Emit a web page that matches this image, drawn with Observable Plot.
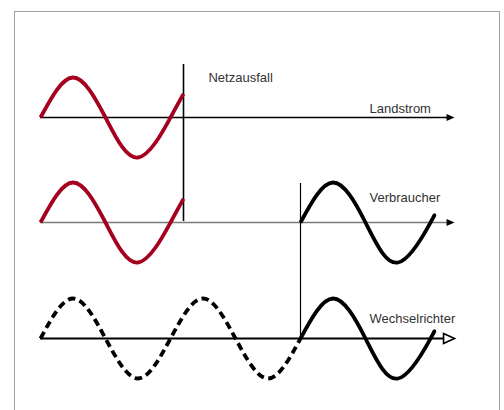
<!DOCTYPE html>
<html><head><meta charset="utf-8">
<script src="https://cdn.jsdelivr.net/npm/d3@7"></script>
<script src="https://cdn.jsdelivr.net/npm/@observablehq/plot@0.6"></script>
<style>body{margin:0;background:#fff} #chart svg{display:block}</style>
</head><body><div id="chart"></div>
<script>
// Rows (axes) and their labels
const rows = ["Landstrom", "Verbraucher", "Wechselrichter"];
const rowBaseline = [0, -2.625, -5.525];
const labelX = [2.531, 2.531, 2.531];
const labelDy = [0.225, 0.625, 0.5];
const axisStart = [0, 0, 0];
const axisLineEnd = [3.14, 3.14, 3.1];
const axisTip = [3.185, 3.185, 3.185];
const axisColor = ["#000", "#7a7a7a", "#000"];
const axisWidth = [1.5, 1.5, 2];
const headType = ["filled", "filled", "open"];

// Wave sample points (x in periods, y in amplitude units)
const gridX = [0, 0.25, 0.5, 0.75, 1, 1.1];
const gridY = [0, 1, 0, -1, 0, 0.59];
const idleX = [0, 0.25, 0.5, 0.75, 1, 1.25, 1.5, 1.75, 2];
const idleY = [0, 1, 0, -1, 0, 1, 0, -1, 0];
const invX = [2, 2.25, 2.5, 2.75, 3, 3.012];
const invY = [0, 1, 0, -1, 0, 0.07];

// Event marker (grid failure / switchover)
const eventLabel = "Netzausfall";
const eventLabelX = 1.292;
const eventLabelY = 1.0;
const cutX = [1.1, 2.0];
const cutTop = [1.325, -1.65];
const cutBottom = [-2.6, -5.525];
const cutWidth = [1.6, 1.2];

const red = "#a5001f";

function wave(xs, ys, row) {
  return xs.map((x, i) => ({x, y: rowBaseline[row] + ys[i]}));
}
const waves = [
  {data: wave(gridX, gridY, 0), stroke: red, dash: null},
  {data: wave(gridX, gridY, 1), stroke: red, dash: null},
  {data: wave(invX, invY, 1), stroke: "#000", dash: null},
  {data: wave(idleX, idleY, 2), stroke: "#000", dash: "7.5,4.5"},
  {data: wave(invX, invY, 2), stroke: "#000", dash: null}
];

const axes = rows.map((name, i) => ({
  name, y: rowBaseline[i], x1: axisStart[i], x2: axisLineEnd[i], tip: axisTip[i],
  color: axisColor[i], width: axisWidth[i], head: headType[i],
  lx: labelX[i], ly: rowBaseline[i] + labelDy[i]
}));
const cuts = cutX.map((x, i) => ({x, y1: cutTop[i], y2: cutBottom[i], w: cutWidth[i]}));

const filledHead = {draw(ctx) { ctx.moveTo(0, 0); ctx.lineTo(-8, -3.6); ctx.lineTo(-8, 3.6); ctx.closePath(); }};
const openHead = {draw(ctx) { ctx.moveTo(0, 0); ctx.lineTo(-11, -5); ctx.lineTo(-11, 5); ctx.closePath(); }};

const font = "'Liberation Sans', Arial, Helvetica, sans-serif";

const marks = [
  Plot.frame({anchor: "left", stroke: "#9aa1a8", strokeWidth: 1}),
  Plot.frame({anchor: "top", stroke: "#9aa1a8", strokeWidth: 1}),
  Plot.frame({anchor: "right", stroke: "#9aa1a8", strokeWidth: 1}),
  ...axes.map(a => Plot.ruleY([a], {y: "y", x1: "x1", x2: "x2", stroke: a.color, strokeWidth: a.width})),
  ...cuts.map(c => Plot.ruleX([c], {x: "x", y1: "y1", y2: "y2", stroke: "#000", strokeWidth: c.w})),
  ...waves.map(w => Plot.line(w.data, {x: "x", y: "y", curve: "natural", stroke: w.stroke, strokeWidth: 3.8,
      strokeDasharray: w.dash ?? undefined, strokeLinecap: "butt"})),
  Plot.dot(axes.filter(a => a.head === "filled"), {x: "tip", y: "y", symbol: filledHead, fill: "#000", stroke: "none"}),
  Plot.dot(axes.filter(a => a.head === "open"), {x: "tip", y: "y", symbol: openHead, fill: "#fff", stroke: "#000", strokeWidth: 1.6}),
  Plot.text(axes, {x: "lx", y: "ly", text: "name", textAnchor: "start", fill: "#333", fontSize: 13}),
  Plot.text([eventLabel], {x: eventLabelX, y: eventLabelY, text: d => d, textAnchor: "start", fill: "#333", fontSize: 13})
];

const chart = Plot.plot({
  width: 504, height: 410,
  marginLeft: 14, marginTop: 11, marginRight: 5, marginBottom: 0,
  x: {domain: [0, 3], range: [40, 430], axis: null},
  y: {domain: [0, -1], range: [117, 157], axis: null},
  style: {fontFamily: font, background: "#fff"},
  marks
});
document.getElementById("chart").appendChild(chart);
</script>
</body></html>
